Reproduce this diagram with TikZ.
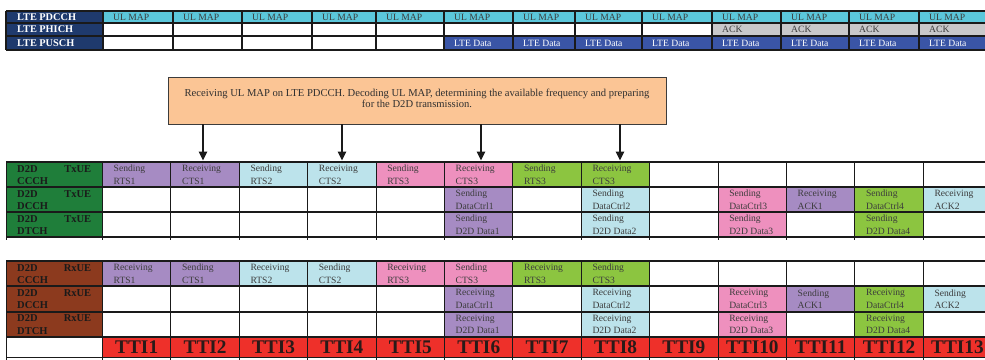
\documentclass[tikz,border=0pt]{standalone}
\usepackage{fontspec}
\setmainfont{Liberation Serif}
\usetikzlibrary{arrows.meta}

% palette
\definecolor{lteNavy}{HTML}{1F3A6D}
\definecolor{mapCyan}{HTML}{5BC7DB}
\definecolor{dataBlue}{HTML}{3A55A6}
\definecolor{ackGrey}{HTML}{C8C8CA}
\definecolor{txGreen}{HTML}{1F7E3A}
\definecolor{rxBrown}{HTML}{8C3A1E}
\definecolor{cPurple}{HTML}{A68BC3}
\definecolor{cBlue}{HTML}{BCE3EB}
\definecolor{cPink}{HTML}{EE90BE}
\definecolor{cGreen}{HTML}{8CC540}
\definecolor{ttiRed}{HTML}{EE302A}
\definecolor{noteFill}{HTML}{FBC595}
\definecolor{gridInk}{HTML}{1A1A1A}
\definecolor{cellInk}{HTML}{3C3C3C}
\definecolor{ttiInk}{HTML}{2A1A18}

% coloured cells of a D2D channel row:
% #1 table, #2 row, #3 row top, #4 row height, #5 list of column/fill/line1/line2
\newcommand\dtwodcells[5]{%
  \foreach \i/\f/\a/\b in {#5} {
    \pgfmathsetmacro\lx{102.5+68.4*(\i-1)}
    \node[cellbox, fill=\f, minimum width=68.4pt, minimum height=#4pt]
      (#1-#2-\i) at (\lx,#3) {};
    \node[celltext] (#1-#2-\i-txt)
      at ([xshift=11pt,yshift=-3pt]#1-#2-\i.north west) {\a\\\b};
  }}

% label cell of a D2D channel row: #1 table, #2 row, #3 top, #4 height, #5 fill, #6 UE, #7 channel
\newcommand\dtwodlabel[7]{%
  \node[cellbox, fill=#5, minimum width=96.5pt, minimum height=#4pt] (#1-#2-lab) at (6,#3) {};
  \node[labeltext] (#1-#2-lab-txt) at ([xshift=11pt,yshift=-2.9pt]#1-#2-lab.north west)
    {\makebox[74pt][l]{D2D\hfill #6}\\#7};
}

\begin{document}
\begin{tikzpicture}[x=1pt,y=-1pt,
  cellbox/.style={draw=none, inner sep=0pt, outer sep=0pt, anchor=north west},
  celltext/.style={inner sep=0pt, anchor=north west, align=left, text=cellInk,
    font=\fontsize{9.6}{12.5}\selectfont},
  labeltext/.style={inner sep=0pt, anchor=north west, align=left, text=gridInk,
    font=\fontsize{10.5}{12.3}\selectfont\bfseries},
  ltelabel/.style={inner sep=0pt, anchor=base west, text=white,
    font=\fontsize{10.3}{12}\selectfont\bfseries},
  ltetext/.style={inner sep=0pt, anchor=base west, font=\fontsize{9.6}{12}\selectfont},
  ttitext/.style={inner sep=0pt, text=ttiInk, font=\fontsize{19.3}{22}\selectfont\bfseries},
  hline/.style={draw=gridInk, line width=1.8pt},
  vline/.style={draw=gridInk, line width=1pt},
  topline/.style={draw=gridInk, line width=1.7pt},
  note/.style={draw=gridInk!85, line width=1.1pt, fill=noteFill, inner sep=0pt,
    anchor=north west},
  notetext/.style={inner sep=0pt, anchor=north, align=center, text=cellInk!80!black,
    font=\fontsize{10.6}{11.3}\selectfont},
  droparrow/.style={draw=gridInk, line width=1.6pt,
    -{Triangle[width=8.5pt,length=9pt]}, shorten >=1.5pt}
]
\useasboundingbox (0,0) rectangle (985,359);
\clip (0,0) rectangle (985,359);

% ---------------- LTE channels ----------------
\foreach \r/\t/\h/\lab in {pdcch/11/12/LTE PDCCH, phich/23/13/LTE PHICH, pusch/36/14/LTE PUSCH} {
  \node[cellbox, fill=lteNavy, minimum width=97pt, minimum height=\h pt] (lte-\r-lab) at (6,\t) {};
  \node[ltelabel] (lte-\r-lab-txt) at (17,{\t+\h/2+3.3}) {\lab};
}
\foreach \l/\rr [count=\i] in {103/173,173/242,242/312,312/376,376/444,444/513,513/575,
    575/642,642/712,712/781,781/849,849/919,919/992} {
  \node[cellbox, fill=mapCyan, minimum width={(\rr-\l)*1pt}, minimum height=12pt]
    (lte-pdcch-\i) at (\l,11) {};
  \node[ltetext, text=cellInk] (lte-pdcch-\i-txt) at ({\l+10},20.3) {UL MAP};
  \ifnum\i>9
    \node[cellbox, fill=ackGrey, minimum width={(\rr-\l)*1pt}, minimum height=13pt]
      (lte-phich-\i) at (\l,23) {};
    \node[ltetext, text=cellInk] (lte-phich-\i-txt) at ({\l+10},32.8) {ACK};
  \fi
  \ifnum\i>5
    \node[cellbox, fill=dataBlue, minimum width={(\rr-\l)*1pt}, minimum height=14pt]
      (lte-pusch-\i) at (\l,36) {};
    \node[ltetext, text=white] (lte-pusch-\i-txt) at ({\l+10},46.2) {LTE Data};
  \fi
}
\foreach \y in {11,23,36,50} \draw[topline] (6,\y) -- (992,\y);
\foreach \x in {6,103,173,242,312,376,444,513,575,642,712,781,849,919}
  \draw[topline] (\x,11) -- (\x,50);

% ---------------- transmitting UE ----------------
\dtwodlabel{tx}{ccch}{162}{25}{txGreen}{TxUE}{CCCH}
\dtwodlabel{tx}{dcch}{187}{25}{txGreen}{TxUE}{DCCH}
\dtwodlabel{tx}{dtch}{212}{25}{txGreen}{TxUE}{DTCH}
\dtwodcells{tx}{ccch}{162}{25}{1/cPurple/Sending/RTS1, 2/cPurple/Receiving/CTS1,
  3/cBlue/Sending/RTS2, 4/cBlue/Receiving/CTS2, 5/cPink/Sending/RTS3,
  6/cPink/Receiving/CTS3, 7/cGreen/Sending/RTS3, 8/cGreen/Receiving/CTS3}
\dtwodcells{tx}{dcch}{187}{25}{6/cPurple/Sending/DataCtrl1, 8/cBlue/Sending/DataCtrl2,
  10/cPink/Sending/DataCtrl3, 11/cPurple/Receiving/ACK1, 12/cGreen/Sending/DataCtrl4,
  13/cBlue/Receiving/ACK2}
\dtwodcells{tx}{dtch}{212}{25}{6/cPurple/Sending/D2D Data1, 8/cBlue/Sending/D2D Data2,
  10/cPink/Sending/D2D Data3, 12/cGreen/Sending/D2D Data4}
\foreach \y in {162,187,212,237} \draw[hline] (6,\y) -- (992,\y);
\draw[vline] (6,162) -- (6,240);
\foreach \k in {0,...,13} \draw[vline] ({102.5+68.4*\k},162) -- ++(0,78);

% ---------------- receiving UE ----------------
\dtwodlabel{rx}{ccch}{261}{25.33}{rxBrown}{RxUE}{CCCH}
\dtwodlabel{rx}{dcch}{286.33}{25.33}{rxBrown}{RxUE}{DCCH}
\dtwodlabel{rx}{dtch}{311.67}{25.33}{rxBrown}{RxUE}{DTCH}
\dtwodcells{rx}{ccch}{261}{25.33}{1/cPurple/Receiving/RTS1, 2/cPurple/Sending/CTS1,
  3/cBlue/Receiving/RTS2, 4/cBlue/Sending/CTS2, 5/cPink/Receiving/RTS3,
  6/cPink/Sending/CTS3, 7/cGreen/Receiving/RTS3, 8/cGreen/Sending/CTS3}
\dtwodcells{rx}{dcch}{286.33}{25.33}{6/cPurple/Receiving/DataCtrl1, 8/cBlue/Receiving/DataCtrl2,
  10/cPink/Receiving/DataCtrl3, 11/cPurple/Sending/ACK1, 12/cGreen/Receiving/DataCtrl4,
  13/cBlue/Sending/ACK2}
\dtwodcells{rx}{dtch}{311.67}{25.33}{6/cPurple/Receiving/D2D Data1, 8/cBlue/Receiving/D2D Data2,
  10/cPink/Receiving/D2D Data3, 12/cGreen/Receiving/D2D Data4}

% transmission time intervals
\foreach \i in {1,...,13} {
  \pgfmathsetmacro\lx{102.5+68.4*(\i-1)}
  \node[cellbox, fill=ttiRed, minimum width=68.4pt, minimum height=20.5pt]
    (tti-\i) at (\lx,337) {};
  \node[ttitext] (tti-\i-txt) at (tti-\i.center) {TTI\i};
}
\foreach \y in {261,286.33,311.67,337,357.5} \draw[hline] (6,\y) -- (992,\y);
\draw[vline] (6,261) -- (6,361);
\foreach \k in {0,...,13} \draw[vline] ({102.5+68.4*\k},261) -- ++(0,100);

% ---------------- decoding note ----------------
\node[note, minimum width=498pt, minimum height=47pt] (note) at (168,77) {};
\node[notetext] (note-txt) at (417,88.8)
  {Receiving UL MAP on LTE PDCCH. Decoding UL MAP, determining the available frequency and preparing\\
   for the D2D transmission.};
\coordinate (drop1) at (203,124);
\coordinate (drop2) at (342,124);
\coordinate (drop3) at (481,124);
\coordinate (drop4) at (620,124);
\draw[droparrow] (drop1) -- (drop1 |- tx-ccch-2.north);
\draw[droparrow] (drop2) -- (drop2 |- tx-ccch-4.north);
\draw[droparrow] (drop3) -- (drop3 |- tx-ccch-6.north);
\draw[droparrow] (drop4) -- (drop4 |- tx-ccch-8.north);
\end{tikzpicture}
\end{document}
